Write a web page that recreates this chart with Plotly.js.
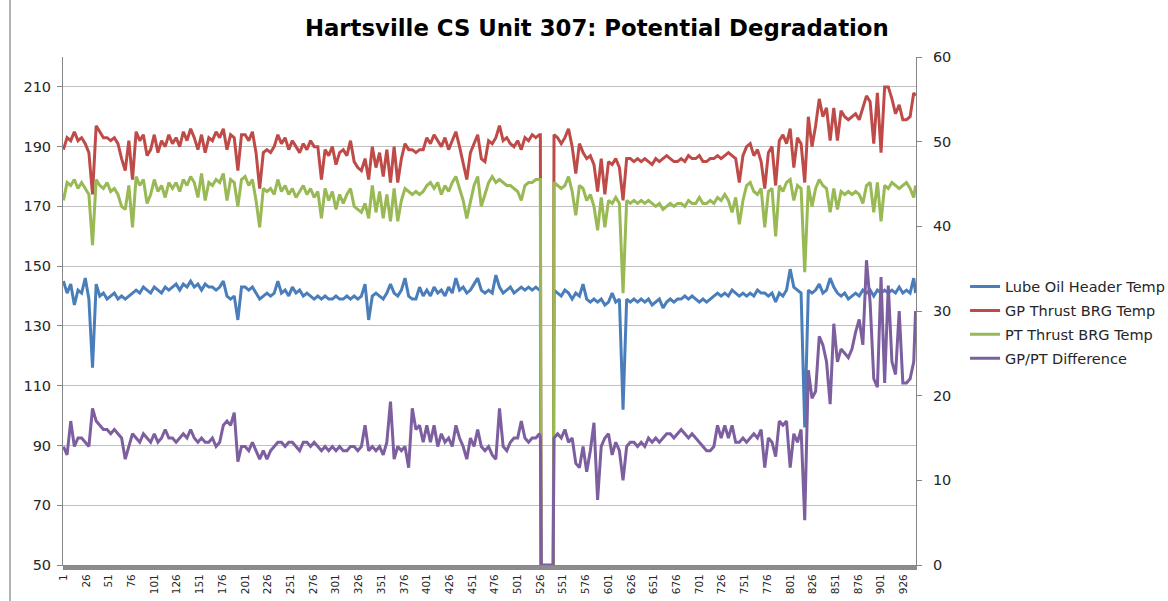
<!DOCTYPE html>
<html><head><meta charset="utf-8">
<script src="https://cdn.plot.ly/plotly-3.0.1.min.js"></script>
<style>html,body{margin:0;padding:0;background:#fff;} #chart{width:1168px;height:601px;}</style>
</head><body><div id="chart"></div>
<script>
// category index (sampled) along the x axis
const sampleIndex = [
1,5,9,13,17,21,25,29,33,37,
41,45,49,53,57,61,65,69,73,77,
81,85,89,93,97,101,105,109,113,117,
121,125,129,133,137,141,145,149,153,157,
161,165,169,173,177,181,185,189,193,197,
201,205,209,213,217,221,225,229,233,237,
241,245,249,253,257,261,265,269,273,277,
281,285,289,293,297,301,305,309,313,317,
321,325,329,333,337,341,345,349,353,357,
361,365,369,373,377,381,385,389,393,397,
401,405,409,413,417,421,425,429,433,437,
441,445,449,453,457,461,465,469,473,477,
481,485,489,493,497,501,505,509,513,517,
521,525,526,527,529,533,537,540,541,545,
549,553,557,561,565,569,573,577,581,585,
589,593,597,601,605,609,613,617,621,625,
629,633,637,641,645,649,653,657,661,665,
669,673,677,681,685,689,693,697,701,705,
709,713,717,721,725,729,733,737,741,745,
749,753,757,761,765,769,773,777,781,785,
789,793,797,801,805,809,813,817,821,825,
829,833,837,841,845,849,853,857,861,865,
869,873,877,881,885,889,893,897,901,905,
909,913,917,921,925,929,933,937,939];

const lubeOilHeaderTemp = [
145,141,144,137,142,141,146,139,116,144,
140,141,139,140,141,139,140,139,140,141,
142,141,143,142,141,143,142,141,143,142,
143,144,142,144,143,145,143,144,142,144,
143,143,142,143,145,140,139,140,132,143,
143,142,143,141,139,140,141,140,141,145,
141,142,140,143,141,142,140,141,140,139,
140,139,140,139,139,140,139,139,140,139,
140,139,140,144,132,140,141,140,139,141,
144,141,140,142,146,140,139,139,143,140,
142,140,143,141,142,140,143,141,146,142,
143,141,142,144,146,142,141,142,141,147,
143,141,142,143,141,142,143,142,143,142,
143,142,142,0,0,0,0,0,142,141,
140,142,141,139,141,140,144,139,138,139,
138,139,137,138,141,138,139,102,139,138,
139,138,139,138,139,137,138,139,136,138,
139,138,139,139,140,139,140,139,138,139,
138,139,140,141,140,141,140,142,141,140,
141,140,141,140,142,141,141,140,141,138,
141,140,142,149,143,142,141,96,142,141,
142,144,141,142,146,143,141,140,141,139,
140,141,140,142,141,142,140,142,141,142,
141,142,141,143,141,142,141,146,141];

const gpThrustBrgTemp = [
189,193,192,195,192,193,191,188,174,197,
195,193,193,192,193,191,186,182,192,179,
195,192,194,187,189,194,188,192,190,194,
191,193,190,195,192,196,193,189,194,188,
193,192,195,193,196,189,194,193,182,194,
194,192,195,188,176,188,189,188,190,194,
191,193,189,192,190,188,191,189,192,190,
190,179,189,187,190,184,188,189,187,192,
185,183,182,186,179,190,183,188,180,189,
178,190,178,186,191,189,189,188,189,189,
193,191,194,192,190,193,189,192,195,190,
184,179,188,191,194,186,185,192,191,193,
197,192,193,191,190,192,189,193,192,194,
193,194,194,0,0,0,0,0,194,193,
191,193,196,190,181,191,188,186,187,184,
175,186,174,185,184,186,183,172,186,186,
185,186,185,186,185,184,186,185,186,187,
186,185,185,186,185,187,186,186,187,185,
185,186,186,187,186,187,188,187,186,178,
187,190,191,187,189,185,176,188,190,177,
192,194,191,196,183,193,191,178,200,190,
197,206,200,203,192,203,192,202,200,199,
200,201,199,203,207,205,191,208,188,210,
210,206,201,204,199,199,200,208,207];

const ptThrustBrgTemp = [
172,178,177,179,176,178,176,174,157,179,
177,176,178,175,176,174,170,169,177,163,
180,177,179,171,174,179,175,177,173,178,
176,178,175,179,177,180,178,173,181,172,
178,177,179,178,181,172,179,178,170,179,
180,177,179,172,163,176,175,176,174,179,
175,177,174,176,173,175,177,174,176,173,
175,166,176,172,175,169,174,171,174,176,
170,169,168,171,166,177,168,175,166,174,
165,176,165,172,176,175,174,175,174,175,
177,178,176,178,174,177,175,178,180,176,
172,166,172,177,180,170,174,178,180,178,
179,178,177,177,176,175,172,177,178,178,
179,179,179,0,0,0,0,0,178,177,
176,177,180,175,167,177,176,172,174,170,
162,173,163,172,171,173,171,141,172,171,
172,171,172,171,172,171,170,171,169,170,
171,170,171,171,170,172,171,171,173,171,
171,172,171,173,172,174,172,168,173,164,
172,177,178,175,174,176,163,175,176,160,
177,175,178,179,172,177,176,148,177,170,
176,179,177,176,168,176,169,175,174,175,
174,175,174,171,177,178,168,178,165,177,
176,178,177,176,177,178,176,173,177];

const gpPtDifference = [
14,13,17,14,15,15,14.5,14,18.5,17,
16.5,16,16,15.5,16,15.5,15,12.5,14,15.5,
15,14.5,15.5,15,14.5,15.5,14.5,15,16,15,
15,14.5,15,15.5,15,16,15,14.5,15,14.5,
14.5,15,14,14.5,16.5,17,16.5,18,12.2,14,
14,13.5,14.5,13.5,12.5,13.5,12.5,13.5,14,14.5,
14.5,14,14.5,14.5,14,13.5,14.5,14.5,14,14.5,
14,13.5,14,13.5,14,13.5,14,13.5,13.5,14,
14,13.5,14,16.5,13.5,14,13.5,14,13,14.5,
19.3,12.5,14,13.5,14,11.5,18.5,16,16.5,14.5,
16.5,14.5,16.5,14,15.5,14.5,15,14,16.5,15,
14,12.5,15,14,16,14,13.5,14,13,12.5,
18.5,14,13.5,14.5,15,15,17,15,14.5,15,
15,15.5,15,0,0,0,0,0,15,15.5,
15,16,14.5,15,12,11.5,14,11,13.5,16.8,
7.7,14,15,15.5,13,14.5,13.5,10,14,14.5,
14.5,14,14.5,14,15,14.5,15,14.5,15,15.5,
15.5,15,15.5,16,15.5,15,15.5,15,14.5,14,
13.5,13.5,14,16.5,15,16.5,15,16.5,14.5,14.5,
15,14.5,15,15.5,15,16,11.5,15,14.5,12.8,
17,16.5,17,11.5,15.5,14.5,16,5.3,23,19.7,
20.5,27,26,24,19,28.5,24,25.5,25,24.5,
25.5,27.5,29,26,36,31,22,21,34,21.5,
33,24,22.5,30,21.5,21.5,22,24,30];

const seriesNames = ['Lube Oil Header Temp','GP Thrust BRG Temp','PT Thrust BRG Temp','GP/PT Difference'];
const tickValues = [1,26,51,76,101,126,151,176,201,226,251,276,301,326,351,376,401,426,451,476,501,526,551,576,601,626,651,676,701,726,751,776,801,826,851,876,901,926];

const colors = ['#4a7ebb','#be4b48','#98b954','#7d5fa0'];
const FONT = 'DejaVu Sans, sans-serif';

function line(y, i, axis) {
  return {
    type: 'scatter', mode: 'lines', x: sampleIndex, y: y, name: seriesNames[i],
    yaxis: axis, legendgroup: 'g' + i,
    line: {color: colors[i], width: 3}, hoverinfo: 'skip'
  };
}

const data = [
  line(lubeOilHeaderTemp, 0, 'y'),
  line(gpThrustBrgTemp, 1, 'y'),
  line(ptThrustBrgTemp, 2, 'y'),
  line(gpPtDifference, 3, 'y2')
];

const layout = {
  width: 1168, height: 601,
  margin: {l: 63, r: 252, t: 57, b: 36, pad: 0, autoexpand: false},
  paper_bgcolor: '#ffffff', plot_bgcolor: '#ffffff',
  font: {family: FONT, color: '#262626', size: 13},
  title: {
    text: '<b>Hartsville CS Unit 307: Potential Degradation</b>',
    font: {family: FONT, size: 22.8, color: '#000000'},
    xref: 'container', x: 0.511, xanchor: 'center',
    yref: 'container', y: 0.953, yanchor: 'middle'
  },
  showlegend: true,
  legend: {
    x: 1.0575, xanchor: 'left', y: 0.477, yanchor: 'middle',
    font: {family: FONT, size: 14.5, color: '#262626'},
    traceorder: 'grouped', tracegroupgap: 2,
    bgcolor: 'rgba(0,0,0,0)'
  },
  xaxis: {
    range: [0.5, 939.5], tickmode: 'array', tickvals: tickValues,
    tickangle: -90, tickfont: {family: FONT, size: 10.5, color: '#262626'},
    showgrid: false, zeroline: false,
    showline: true, linecolor: '#868686', linewidth: 1,
    ticks: 'outside', ticklen: 4, tickwidth: 1, tickcolor: '#868686',
    minor: {tickmode: 'linear', tick0: 0.5, dtick: 1, ticks: 'outside', ticklen: 4, tickwidth: 1, tickcolor: '#8c8c8c', showgrid: false},
    layer: 'below traces'
  },
  yaxis: {
    range: [50, 220], tick0: 50, dtick: 20, tickmode: 'linear',
    showgrid: true, gridcolor: '#c0c0c0', gridwidth: 1, zeroline: false,
    showline: true, linecolor: '#868686', linewidth: 1,
    ticks: 'outside', ticklen: 5, tickcolor: '#868686', ticklabelstandoff: 3,
    tickfont: {family: FONT, size: 14.5, color: '#262626'}
  },
  yaxis2: {
    range: [0, 60], tick0: 0, dtick: 10, tickmode: 'linear',
    overlaying: 'y', side: 'right', showgrid: false, zeroline: false,
    showline: true, linecolor: '#868686', linewidth: 1,
    ticks: 'outside', ticklen: 5, tickcolor: '#868686', ticklabelstandoff: 8,
    tickfont: {family: FONT, size: 14.5, color: '#262626'}
  },
  shapes: [
    {type: 'line', xref: 'paper', yref: 'paper', x0: (10 - 63) / 853, x1: (10 - 63) / 853,
     y0: -36 / 508, y1: 1 + 57 / 508, line: {color: '#9a9a9a', width: 1.5}}
  ]
};

Plotly.newPlot('chart', data, layout, {displayModeBar: false, staticPlot: true});
</script>
</body></html>
